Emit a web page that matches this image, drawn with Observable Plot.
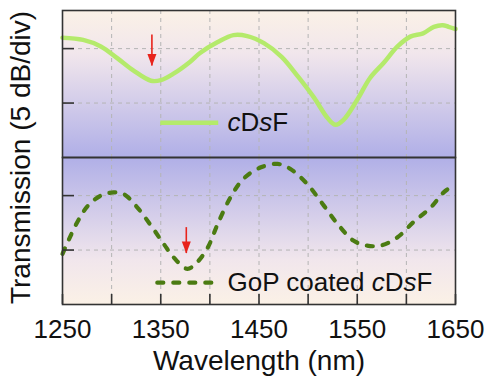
<!DOCTYPE html>
<html>
<head>
<meta charset="utf-8">
<script src="https://cdn.jsdelivr.net/npm/d3@7"></script>
<script src="https://cdn.jsdelivr.net/npm/@observablehq/plot@0.6"></script>
<style>
  html, body { margin: 0; padding: 0; background: #fff; }
</style>
</head>
<body>
<svg width="0" height="0" style="position:absolute">
  <defs>
    <linearGradient id="gTop" x1="0" y1="0" x2="0" y2="1">
      <stop offset="0" stop-color="#fbf1e6"/>
      <stop offset="0.3" stop-color="#f1e6ec"/>
      <stop offset="1" stop-color="#b0afe7"/>
    </linearGradient>
    <linearGradient id="gBottom" x1="0" y1="0" x2="0" y2="1">
      <stop offset="0" stop-color="#b0afe7"/>
      <stop offset="0.7" stop-color="#f1e6ec"/>
      <stop offset="1" stop-color="#fbf1e6"/>
    </linearGradient>
  </defs>
</svg>
<div id="chart"></div>
<script>
// ---- data ----
const panels = ["top", "bottom"];

const topWavelength = [1250,1271,1289,1306,1322,1340,1350,1363,1380,1390,1408,1424,1438,1455,1473,1490,1506,1520,1528,1536,1550,1563,1577,1591,1604,1617,1628,1637,1643,1650];
const topValues = [-4.0,-4.2,-4.8,-5.9,-7.0,-7.95,-7.9,-7.3,-6.2,-5.4,-4.4,-3.76,-3.85,-4.5,-5.75,-7.6,-9.5,-11.4,-12.0,-11.55,-9.7,-7.7,-6.3,-4.8,-3.9,-3.6,-3.0,-2.85,-3.0,-3.2];

const bottomWavelength = [1250,1256,1265,1276,1289,1302,1312,1326,1340,1353,1363,1377,1387,1398,1408,1421,1434,1452,1469,1482,1499,1516,1530,1546,1560,1574,1591,1607,1625,1638,1650];
const bottomValues = [-10.35,-9.13,-7.45,-5.92,-5.0,-4.7,-4.84,-6.07,-7.75,-9.43,-10.66,-11.72,-11.12,-9.74,-7.6,-5.16,-3.47,-2.4,-2.09,-2.55,-3.93,-5.92,-7.6,-9.13,-9.59,-9.59,-8.83,-7.45,-6.07,-4.7,-3.93];

const seriesLabels = ["cDsF", "GoP coated cDsF"];

const arrowPanel = ["top", "bottom"];
const arrowWavelength = [1341, 1376];
const arrowStart = [-3.76, -7.94];
const arrowEnd = [-6.6, -10.32];

const xTicks = [1250,1300,1350,1400,1450,1500,1550,1600,1650];
const xTickLabels = [1250,1350,1450,1550,1650];
const yTicks = [-5, -10];
const xLabel = "Wavelength (nm)";
const yLabel = "Transmission (5 dB/div)";

// ---- tables ----
const topRows = topWavelength.map((w, i) => ({panel: "top", wavelength: w, value: topValues[i]}));
const bottomRows = bottomWavelength.map((w, i) => ({panel: "bottom", wavelength: w, value: bottomValues[i]}));
const arrows = arrowPanel.map((p, i) => ({panel: p, wavelength: arrowWavelength[i], start: arrowStart[i], end: arrowEnd[i]}));

const headSymbol = {
  draw(context, size) {
    const r = Math.sqrt(size / Math.PI);
    context.moveTo(0, r);
    context.lineTo(-0.75 * r, -r);
    context.lineTo(0.75 * r, -r);
    context.closePath();
  }
};

const FONT = '"Liberation Sans", Arial, Helvetica, sans-serif';
const lightGreen = "#b4ea6b";
const darkGreen = "#4b7b12";
const red = "#e8231c";
const gridStyle = {stroke: "#b4b4b4", strokeOpacity: 1, strokeDasharray: "4,4", strokeWidth: 1};

const chart = Plot.plot({
  width: 485,
  height: 383,
  marginLeft: 62,
  marginRight: 30,
  marginTop: 10,
  marginBottom: 79,
  style: {fontFamily: FONT, background: "transparent", color: "#000"},
  x: {domain: [1250, 1650]},
  y: {domain: [-15, -1.5]},
  fy: {domain: panels, padding: 0, axis: null},
  marks: [
    Plot.rect([{panel: "top"}], {fy: "panel", fill: "url(#gTop)"}),
    Plot.rect([{panel: "bottom"}], {fy: "panel", fill: "url(#gBottom)"}),
    Plot.gridX({ticks: xTicks.slice(1, -1), ...gridStyle}),
    Plot.gridY({ticks: yTicks, ...gridStyle}),
    Plot.line(topRows, {x: "wavelength", y: "value", fy: "panel", stroke: lightGreen, strokeWidth: 4.5, curve: "catmull-rom"}),
    Plot.line(bottomRows, {x: "wavelength", y: "value", fy: "panel", stroke: darkGreen, strokeWidth: 4.2, strokeDasharray: "6,10", strokeLinecap: "round", curve: "catmull-rom"}),
    // legend
    Plot.ruleY([{panel: "top"}], {fy: "panel", y: -11.8, x1: 1350, x2: 1409, stroke: lightGreen, strokeWidth: 4.5}),
    Plot.ruleY([{panel: "bottom"}], {fy: "panel", y: -13.0, x1: 1347, x2: 1409, stroke: darkGreen, strokeWidth: 4.2, strokeDasharray: "6,10", strokeLinecap: "round"}),
    Plot.text([{panel: "top", label: seriesLabels[0]}], {fy: "panel", x: 1418, y: -11.8, text: "label", textAnchor: "start", lineAnchor: "middle", fontSize: 26, fill: "#111"}),
    Plot.text([{panel: "bottom", label: seriesLabels[1]}], {fy: "panel", x: 1418, y: -13.0, text: "label", textAnchor: "start", lineAnchor: "middle", fontSize: 26, fill: "#111"}),
    // arrows
    Plot.ruleX(arrows, {fy: "panel", x: "wavelength", y1: "start", y2: "end", stroke: red, strokeWidth: 1.6}),
    Plot.dot(arrows, {fy: "panel", x: "wavelength", y: "end", symbol: headSymbol, r: 6, dy: -6, fill: red, stroke: "none"}),
    Plot.frame({stroke: "#333", strokeWidth: 1.6}),
    // inward ticks
    Plot.axisY({ticks: yTicks, tickSize: 12, dx: 12, tickFormat: () => "", label: null, stroke: "#333", strokeWidth: 1.6}),
    Plot.axisX({ticks: xTicks, tickSize: 10, dy: -10, tickFormat: () => "", label: null, stroke: "#333", strokeWidth: 1.6}),
    Plot.axisX({ticks: xTickLabels, tickSize: 0, tickPadding: 15, tickFormat: d3.format("d"), fontSize: 26, label: null, fill: "#111"}),
    // axis titles
    Plot.text([xLabel], {fy: () => "bottom", frameAnchor: "bottom", dy: 57, text: d => d, fontSize: 28, lineAnchor: "middle", fill: "#111"}),
    Plot.text([yLabel], {fy: () => "top", frameAnchor: "bottom-left", dx: -41, rotate: -90, text: d => d, fontSize: 28, textAnchor: "middle", lineAnchor: "middle", fill: "#111"})
  ]
});

// italic c and s in "cDsF"
d3.select(chart).selectAll("text").each(function() {
  const t = this.textContent;
  if (!t.endsWith("cDsF")) return;
  const prefix = t.slice(0, -4);
  const sel = d3.select(this);
  sel.text("");
  if (prefix) sel.append("tspan").text(prefix);
  sel.append("tspan").attr("font-style", "italic").text("c");
  sel.append("tspan").text("D");
  sel.append("tspan").attr("font-style", "italic").text("s");
  sel.append("tspan").text("F");
});

document.getElementById("chart").appendChild(chart);
</script>
</body>
</html>
